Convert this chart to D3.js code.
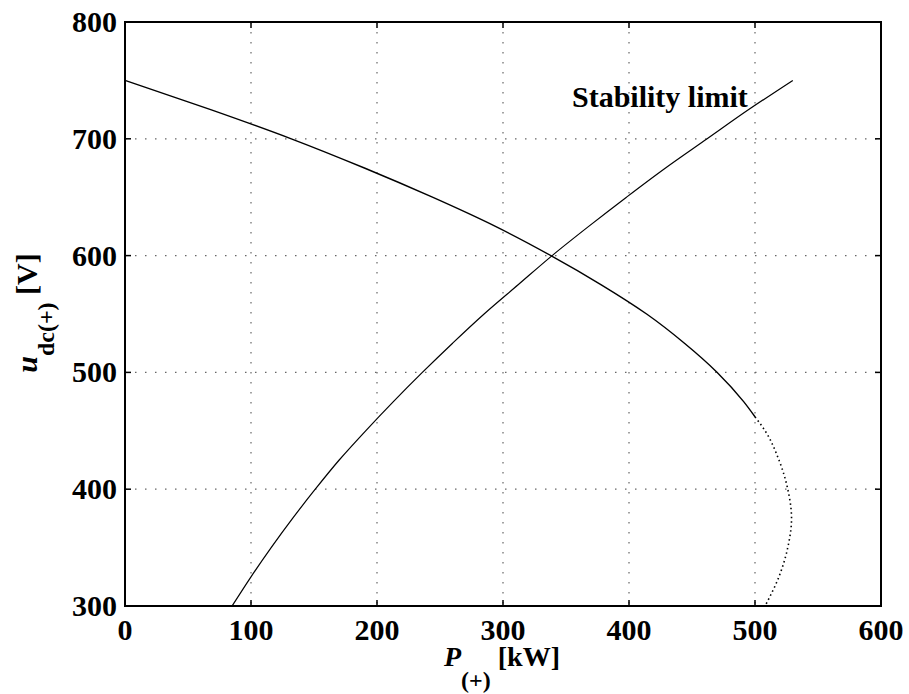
<!DOCTYPE html>
<html>
<head>
<meta charset="utf-8">
<script src="https://cdn.jsdelivr.net/npm/d3@7"></script>
<style>
  body { margin: 0; background: #fff; }
  svg text { font-family: "Liberation Serif", "Times New Roman", serif; font-weight: bold; fill: #000; }
</style>
</head>
<body>
<svg id="chart" width="909" height="694"></svg>
<script>
// Operating curve: dc voltage [V] vs power [kW]
const voltsA = [750, 725, 700, 675, 650, 625, 600, 575, 550, 525, 500, 475, 462, 450, 425, 400, 375, 350, 325, 300];
const powerA = [0, 68, 132, 190, 244, 294, 338, 378, 414, 444, 470, 491, 500, 508, 519, 526, 529, 526, 519, 508];

// Stability limit curve
const voltsB = [750, 725, 700, 675, 650, 625, 600, 575, 550, 525, 500, 475, 450, 425, 400, 375, 350, 325, 300];
const powerB = [530, 495, 462, 429, 398, 368, 339, 312, 285, 260, 236, 213, 191, 170, 151, 133, 116, 100, 85];

const xTicks = [0, 100, 200, 300, 400, 500, 600];
const yTicks = [300, 400, 500, 600, 700, 800];

const svg = d3.select("#chart");
const plotLeft = 125, plotRight = 881, plotTop = 22, plotBottom = 606;

const x = d3.scaleLinear().domain([0, 600]).range([plotLeft, plotRight]);
const y = d3.scaleLinear().domain([300, 800]).range([plotBottom, plotTop]);

// grid
svg.append("g").selectAll("line")
  .data(xTicks.slice(1, -1))
  .join("line")
  .attr("x1", d => x(d)).attr("x2", d => x(d))
  .attr("y1", plotTop).attr("y2", plotBottom)
  .attr("stroke", "#666").attr("stroke-width", 1.2)
  .attr("stroke-dasharray", "1.5,8.5");

svg.append("g").selectAll("line")
  .data(yTicks.slice(1, -1))
  .join("line")
  .attr("y1", d => y(d)).attr("y2", d => y(d))
  .attr("x1", plotLeft).attr("x2", plotRight)
  .attr("stroke", "#666").attr("stroke-width", 1.2)
  .attr("stroke-dasharray", "1.5,8.5");

// curves
const toPts = (volts, power) => volts.map((v, i) => [power[i], v]);
const line = d3.line().x(d => x(d[0])).y(d => y(d[1])).curve(d3.curveMonotoneY);

const ptsA = toPts(voltsA, powerA);
svg.append("path")
  .attr("d", line(ptsA.filter(d => d[1] >= 462)))
  .attr("fill", "none").attr("stroke", "#000").attr("stroke-width", 1.4);
svg.append("path")
  .attr("d", line(ptsA.filter(d => d[1] <= 462)))
  .attr("fill", "none").attr("stroke", "#000").attr("stroke-width", 1.6)
  .attr("stroke-dasharray", "1.5,3");

svg.append("path")
  .attr("d", line(toPts(voltsB, powerB)))
  .attr("fill", "none").attr("stroke", "#000").attr("stroke-width", 1.2);

// axes ticks (inward, all four sides)
const tickLen = 6;
const ticks = svg.append("g").attr("stroke", "#000").attr("stroke-width", 1.5);
xTicks.forEach(t => {
  ticks.append("line").attr("x1", x(t)).attr("x2", x(t)).attr("y1", plotBottom).attr("y2", plotBottom - tickLen);
  ticks.append("line").attr("x1", x(t)).attr("x2", x(t)).attr("y1", plotTop).attr("y2", plotTop + tickLen);
});
yTicks.forEach(t => {
  ticks.append("line").attr("y1", y(t)).attr("y2", y(t)).attr("x1", plotLeft).attr("x2", plotLeft + tickLen);
  ticks.append("line").attr("y1", y(t)).attr("y2", y(t)).attr("x1", plotRight).attr("x2", plotRight - tickLen);
});

// frame
svg.append("rect")
  .attr("x", plotLeft).attr("y", plotTop)
  .attr("width", plotRight - plotLeft).attr("height", plotBottom - plotTop)
  .attr("fill", "none").attr("stroke", "#000").attr("stroke-width", 2);

// tick labels
svg.append("g").selectAll("text")
  .data(xTicks)
  .join("text")
  .attr("x", d => x(d)).attr("y", 640)
  .attr("text-anchor", "middle")
  .attr("font-size", 30)
  .text(d => d);

svg.append("g").selectAll("text")
  .data(yTicks)
  .join("text")
  .attr("x", 117).attr("y", d => y(d) + 10)
  .attr("text-anchor", "end")
  .attr("font-size", 30)
  .text(d => d);

// x label
const xl = svg.append("text").attr("x", 502).attr("y", 666).attr("text-anchor", "middle").attr("font-size", 28);
xl.append("tspan").attr("font-style", "italic").text("P");
xl.append("tspan").attr("font-size", 24).attr("dy", 22).text("(+)");
xl.append("tspan").attr("dy", -22).text(" [kW]");

// y label
const yl = svg.append("text")
  .attr("transform", "translate(37,313) rotate(-90)")
  .attr("text-anchor", "middle").attr("font-size", 30);
yl.append("tspan").attr("font-style", "italic").text("u");
yl.append("tspan").attr("font-size", 24).attr("dy", 17).text("dc(+)");
yl.append("tspan").attr("dy", -17).text(" [V]");

// annotation
svg.append("text")
  .attr("x", 572).attr("y", 107)
  .attr("font-size", 30)
  .text("Stability limit");
</script>
</body>
</html>
